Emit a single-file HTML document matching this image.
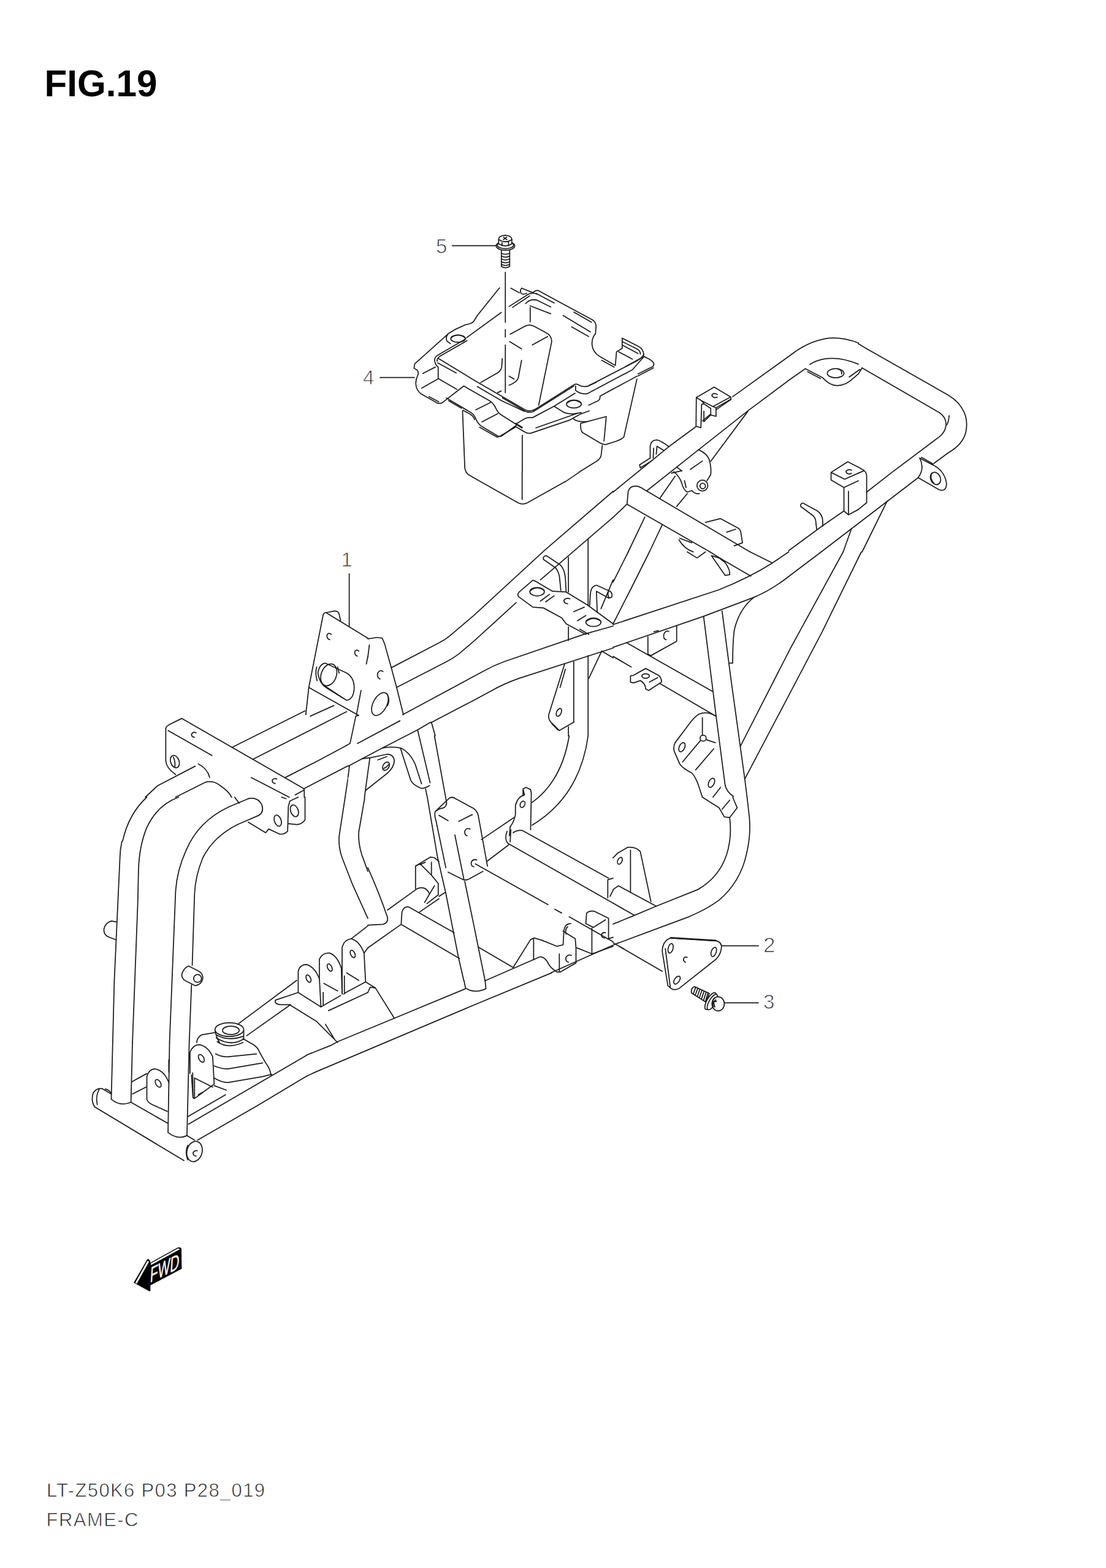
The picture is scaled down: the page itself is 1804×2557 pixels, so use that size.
<!DOCTYPE html>
<html><head><meta charset="utf-8"><title>FIG.19 FRAME-C</title>
<style>
html,body{margin:0;padding:0;background:#fff;}
body{width:1804px;height:2557px;overflow:hidden;position:relative;font-family:"Liberation Sans",sans-serif;}
svg{position:absolute;left:0;top:0;}
svg path,svg ellipse,svg circle,svg line,svg polyline{fill:none;stroke:#1c1c1c;stroke-width:1.75;vector-effect:non-scaling-stroke;stroke-linecap:round;stroke-linejoin:round;}
svg .w{fill:#fff;}
svg .k{fill:#2a2a2a;}
svg text{font-family:"Liberation Sans",sans-serif;fill:#333;stroke:none;}
svg text.n{font-size:33px;fill:#333;stroke:#fff;stroke-width:0.9px;}
svg text.b{font-size:31px;fill:#222;stroke:#fff;stroke-width:0.8px;}
svg text.t{font-size:62px;font-weight:bold;fill:#000;}
</style></head><body>
<svg width="1804" height="2557" viewBox="0 0 1804 2557">
<!-- 00_text.svg -->
<text class="t" x="72.5" y="157.2" textLength="184" lengthAdjust="spacingAndGlyphs">FIG.19</text>
<text class="b" x="76" y="2441" textLength="356" lengthAdjust="spacing">LT-Z50K6 P03 P28_019</text>
<text class="b" x="75.5" y="2489" textLength="150" lengthAdjust="spacing">FRAME-C</text>
<!-- 10_bolt5.svg -->
<text class="n" x="711" y="413">5</text>
<text class="n" x="592" y="627">4</text>
<path d="M620 615.5 L676 615.5"/>
<g transform="translate(660,370) scale(0.185185)">
<path d="M420 165 L805 165"/>
<path d="M887 400 L887 840 M887 905 L887 970 M887 1040 L887 1460"/>
<!-- bolt 5 -->
<path class="w" d="M852 200 L852 348 Q888 372 925 348 L925 200 Z"/>
<path d="M852 232 Q888 250 925 232 M852 257 Q888 275 925 257 M852 282 Q888 300 925 282 M852 307 Q888 325 925 307 M852 330 Q888 348 925 330"/>
<ellipse class="w" cx="888" cy="168" rx="82" ry="38"/>
<ellipse cx="888" cy="160" rx="72" ry="32"/>
<path class="w" d="M828 150 L828 108 Q830 78 885 74 Q940 78 944 108 L944 150 Q888 185 828 150 Z"/>
<path d="M828 112 Q885 150 944 112 M858 128 L858 165 M915 128 L915 165 M870 90 L900 112 M900 90 L870 112"/>
</g>
<!-- 11_boxleft.svg -->
<g transform="translate(670,430) scale(0.246914)">
<path d="M586 160 L440 342 L415 382 Q398 398 364 402 L290 436 L248 462 Q226 485 240 512 L262 528"/>
<ellipse cx="312" cy="495" rx="48" ry="24"/>
<path d="M268 488 Q312 455 358 488"/>
<path d="M244 466 L26 662 L22 690 L42 703 Q56 717 44 743 Q31 770 34 800 Q38 837 68 860 L177 921 Q192 927 211 916 L350 808 L520 905 Q548 922 562 955 Q578 988 600 1000 L735 1085"/>
<path d="M235 887 L400 985 Q418 995 430 1025 Q445 1060 470 1075 L575 1138 Q590 1145 605 1135 L700 1065"/>
<path d="M120 878 L185 912 M250 905 L335 955 M345 968 L395 995 Q412 1005 422 1030 M455 1080 L570 1145"/>
<path d="M364 496 L177 605 Q155 620 158 642 Q162 668 181 683 L181 758 L305 830"/>
<path d="M184 627 L413 766 L755 965 Q785 980 815 965"/>
<path d="M178 655 L300 722 M440 812 L600 905 M600 905 L750 975"/>
<path d="M80 725 L162 683 M72 822 L177 762"/>
<path d="M598 322 L370 488"/>
<path d="M604 627 L601 680 Q597 706 574 721 L462 785"/>
<path d="M732 638 L710 755 Q702 781 650 803"/>
<path d="M650 743 L683 762 M574 852 L597 841"/>
<path d="M657 466 L754 413 Q784 398 814 413 L897 458 Q931 477 931 514 L845 935"/>
<path d="M653 514 L732 563 M803 537 L904 481"/>
<path d="M430 965 L530 915 M470 1045 L575 990"/>
</g>
<g transform="translate(670,430) scale(0.246914)">
<path d="M372 508 L192 612 Q172 625 174 644"/>
</g>
<!-- 12_boxright.svg -->
<g transform="translate(800,470) scale(0.185185)">
<path d="M165 160 L330 55 Q365 35 410 52 M195 168 L345 68"/>
<path d="M180 0 L255 40 M275 0 Q255 20 270 45 Q290 60 320 45"/>
<path d="M275 0 L375 40 Q395 15 420 20 L900 280 Q930 300 930 340 L925 400 Q890 440 895 500 Q900 560 960 600 L1100 680 L1110 560 L1160 530 L1160 440 L1300 510 Q1350 535 1350 590"/>
<path d="M310 135 Q350 90 410 105 L530 165 M350 155 L530 225 M640 240 L880 385 M735 210 L890 300 M715 340 L865 425 M400 45 L560 130"/>
<path d="M350 170 L350 295"/>
<path d="M1160 470 L1290 535 Q1320 550 1320 580 M1130 560 L1250 625 M1160 500 L1300 575 M980 635 L1090 695"/>
<!-- rim -->
<path d="M380 1075 L420 1050 L735 850 Q755 838 775 850 Q810 875 860 862 L1290 640 Q1340 610 1350 580"/>
<path d="M105 965 L310 1085 Q340 1100 375 1088 L735 862"/>
<path d="M750 860 L750 900 Q790 935 850 930 L1250 718 L1350 605"/>
<path d="M870 855 L930 830 M1190 690 L1345 605"/>
<!-- flange front right -->
<path d="M225 1195 L310 1145 Q340 1135 370 1140 L560 1040 L745 925"/>
<path d="M560 1040 L640 1090 Q680 1110 740 1105 L800 1095"/>
<ellipse cx="735" cy="1020" rx="65" ry="35"/>
<path d="M675 1010 Q735 965 795 1010"/>
<path d="M60 1310 L80 1305 L225 1220 L300 1265 Q330 1285 360 1275 L700 1160 L790 1110 L870 1080"/>
<path d="M400 1230 L770 1100 M220 1190 L280 1225"/>
<path d="M865 1030 L940 995 Q965 985 965 960 L965 950 L1085 885 M975 945 L1290 775 M1300 755 L1430 690 Q1445 675 1435 655 Q1425 640 1400 625 L1350 600 M1300 772 L1435 702"/>
<!-- right wall -->
<path d="M1290 800 L1175 1310 Q1160 1330 1100 1350 L1020 1375 Q990 1380 960 1360 L810 1270 Q790 1250 795 1190 L850 1175 L1020 1130 L1000 1345"/>
<path d="M730 1150 Q760 1180 850 1175"/>
<path d="M985 1385 L975 1470 Q970 1500 940 1520 L780 1620"/>
<path d="M280 1295 L280 1620"/>
</g>
<!-- 13_boxbottom.svg -->
<g transform="translate(660,670) scale(0.185185)">
<path d="M510 0 L530 500 Q535 540 560 560 L610 590 L1000 810 Q1040 830 1080 810 L1410 625"/>
<path d="M1035 540 L1035 780"/>
</g>
<!-- 20_t1000_500.svg -->
<g transform="translate(1000,500) scale(0.246914)">
<!-- upper rail (left) top edge with rear loop corner -->
<path d="M1620 240 Q1500 195 1400 212 Q1280 235 1170 322 L790 595 M545 795 L385 912 L0 1225"/>
<path d="M1270 410 L1170 480 L895 685 L565 945 L225 1215"/>
<path d="M890 692 L645 1022"/>
<path d="M1620 380 Q1500 330 1400 345 Q1340 355 1300 382"/>
<path d="M1270 410 L1385 470 Q1430 520 1480 522 Q1540 520 1590 470 L1620 445 M1285 430 L1370 475"/>
<ellipse cx="1470" cy="440" rx="55" ry="30"/>
<path d="M1485 412 Q1515 420 1510 445"/>
<!-- bracket A -->
<path d="M548 790 L550 600 L668 532 L778 597 L778 612 L680 668 L680 725 L645 715 L645 672 L600 642 L585 645 L580 800 Z"/>
<path d="M550 600 L585 622 L600 640 M585 622 L660 660 L770 600 M660 660 L680 668 M600 690 L600 760 L645 715"/>
<path d="M688 580 Q665 565 652 585 Q660 608 688 598"/>
<!-- hook bracket -->
<path d="M245 1000 L245 920 Q250 880 290 880 Q310 882 370 925 M285 975 L290 922 L335 950 M265 1000 L268 935"/>
<path d="M175 1045 L245 1000 M180 1065 L260 1015 M175 1045 L180 1065"/>
<!-- collar with bolt -->
<path d="M565 945 Q620 970 635 1010 Q650 1060 645 1110 L620 1150"/>
<path d="M400 1090 Q440 1120 455 1170 Q465 1210 490 1225 L520 1215 Q540 1240 570 1235"/>
<circle cx="590" cy="1182" r="36"/>
<circle cx="592" cy="1185" r="18"/>
<path d="M510 1075 L590 1020 M385 1100 L450 1085 M472 1150 L482 1195 M420 1060 L455 1085"/>
<!-- cross tube -->
<path d="M92 1305 L100 1220 Q110 1185 150 1185 Q175 1187 200 1205 L905 1620"/>
<path d="M92 1305 L640 1620 M92 1305 L0 1392"/>
<path d="M210 1390 L100 1620 M325 1440 L240 1620 M410 1120 L310 1265 M490 1235 L420 1320"/>
<!-- plate -->
<path d="M610 1425 L710 1400 L830 1465 Q845 1480 845 1500 L855 1560 L800 1580 M750 1490 L810 1470"/>
<path d="M440 1530 L520 1560 M435 1540 Q470 1600 530 1620"/>
<!-- right bracket -->
<path d="M1620 1060 L1550 1025 L1440 1095 L1440 1145 L1525 1195 L1620 1150 M1440 1095 L1530 1140 L1620 1100 M1525 1195 L1525 1350 L1555 1375 L1620 1340 M1555 1220 L1555 1375"/>
<path d="M1575 1080 Q1550 1070 1538 1090 Q1548 1112 1575 1102"/>
<!-- hook rod -->
<path d="M1240 1320 Q1235 1300 1255 1298 L1350 1350 Q1385 1375 1385 1420 L1385 1450 M1240 1320 L1320 1380 Q1340 1400 1340 1430 L1345 1470"/>
<!-- right rail -->
<path d="M1525 1350 L1380 1450 L1160 1612 M1575 1466 L1520 1620"/>
</g>
<!-- 21_t1300_500.svg -->
<g transform="translate(1300,500) scale(0.246914)">
<path d="M405 245 L450 272 L1000 585 Q1075 630 1105 700 Q1130 760 1115 830 Q1095 910 1000 965 L905 1035"/>
<path d="M430 405 L940 700 Q985 730 985 780 Q980 830 940 860 L620 1100 L460 1225"/>
<path d="M1005 720 Q1002 760 990 780"/>
<path d="M405 445 L430 405 M345 465 L415 415"/>
<path d="M810 1000 L895 1045 Q975 1080 988 1170 Q985 1225 940 1210 L800 1130 Q830 1090 825 1050 Q822 1020 810 1000 M822 995 L900 1040"/>
<ellipse cx="915" cy="1135" rx="32" ry="42" transform="rotate(-25 915 1135)"/>
<path d="M890 1100 Q875 1135 905 1168"/>
<path d="M405 1060 L440 1080 Q460 1095 460 1120 L460 1295 L405 1340 M405 1100 L440 1085"/>
<path d="M800 1130 L160 1620"/>
<path d="M595 1285 L430 1620"/>
</g>
<!-- 22_t1000_900.svg -->
<g transform="translate(1000,900) scale(0.246914)">
<!-- right rail curved -->
<path d="M1160 0 L1050 75 Q900 170 700 250 L0 480"/>
<path d="M1375 0 L1170 155 Q1050 250 930 300 L600 425 L0 630"/>
<!-- cross tube 1 -->
<path d="M905 0 L1050 72 M640 0 L720 50 L910 160"/>
<!-- struts -->
<path d="M1520 0 L1230 530 L1170 640 L840 1285"/>
<path d="M1640 0 L1380 530 L1170 930 L870 1500"/>
<!-- left diagonals -->
<path d="M100 0 L0 200 M240 0 L120 240 L0 475"/>
<!-- vertical tube -->
<path d="M598 425 L660 920 L680 1080 L740 1540 Q750 1585 795 1615"/>
<path d="M720 390 L780 850 L870 1500 L885 1620"/>
<path d="M930 300 Q830 380 800 520 Q790 600 790 735 L765 735"/>
<!-- cross tube 2 -->
<path d="M90 600 L655 920 M0 690 L120 760 M310 870 L680 1085"/>
<!-- small plate -->
<path d="M230 560 L230 675 L250 685 L420 590 L420 485"/>
<path d="M368 525 Q345 515 335 545 Q330 575 350 580 M270 527 L300 520"/>
<!-- clip -->
<path d="M115 860 L115 820 L135 815 L215 770 L300 815 Q320 830 320 860 L235 915 L215 905 Q215 870 180 850 L135 865 Z"/>
<ellipse cx="215" cy="820" rx="25" ry="15"/>
<path d="M240 860 L295 830"/>
<!-- big bracket -->
<path d="M680 1085 Q620 1050 570 1070 Q540 1085 500 1140 L410 1260 Q395 1290 405 1320 L440 1400 Q460 1430 520 1460 Q540 1480 560 1530 L590 1620"/>
<path d="M590 1095 L590 1210 M578 1245 L459 1387 M615 1240 L675 1260 M545 1440 L665 1300 M660 1620 L710 1555"/>
<circle cx="595" cy="1230" r="20"/>
<ellipse cx="455" cy="1290" rx="18" ry="32" transform="rotate(25 455 1290)"/>
<ellipse cx="650" cy="1525" rx="18" ry="32" transform="rotate(25 650 1525)"/>
<!-- top bits -->
<path d="M490 0 L555 40 L610 0 M650 25 L740 155 L770 150 Q775 120 740 70 L700 40 Z"/>
</g>
<!-- 23_t600_800.svg -->
<g transform="translate(600,800) scale(0.246914)">
<!-- upper-left rail -->
<path d="M1620 5 L1170 392 L700 825 L570 935 Q520 980 480 1000 L155 1170"/>
<path d="M1620 177 L1140 590 M980 740 L700 995 L600 1080 Q560 1110 520 1130 L190 1300"/>
<!-- right rail -->
<path d="M1620 895 L1440 945 L900 1130 Q830 1155 760 1195 L230 1480"/>
<path d="M1620 1040 L1000 1240 Q900 1275 820 1320 L700 1385 L250 1620"/>
<!-- head plate -->
<path d="M0 980 L60 970 L95 975 L110 1010 L155 1170 L190 1300 L235 1480 M10 1020 L0 1100"/>
<path d="M100 1195 Q80 1180 65 1205 Q58 1235 80 1245"/>
<ellipse cx="80" cy="1410" rx="45" ry="82" transform="rotate(28 80 1410)"/>
<path d="M125 1340 Q150 1380 130 1420"/>
<path d="M0 1610 L210 1520 M420 1530 L445 1620 M325 1580 L340 1620"/>
<!-- hook rod -->
<path d="M1160 455 Q1155 430 1180 430 L1270 490 Q1300 520 1305 580 L1310 670 M1160 455 L1240 510 Q1265 540 1268 590 L1275 660"/>
<!-- vertical lines -->
<path d="M1325 440 L1325 670 M1325 900 L1325 990 M1455 320 L1455 760 M1455 1090 L1455 1620 M1360 1130 L1360 1530 M1325 1560 L1325 1620"/>
<!-- mount plate -->
<path d="M1110 600 L1090 592 L1000 670 Q985 685 995 700 L1090 770 L1160 775 L1280 840 L1310 880 L1440 950"/>
<path d="M1110 600 L1220 665 L1310 670 L1450 755 L1620 880"/>
<ellipse cx="1118" cy="668" rx="48" ry="28"/>
<path d="M1075 660 Q1118 625 1165 660"/>
<ellipse cx="1490" cy="870" rx="50" ry="28"/>
<path d="M1445 862 Q1490 828 1538 862"/>
<path d="M1335 715 Q1310 705 1295 725 Q1295 745 1320 748"/>
<path d="M1140 730 L1200 685 M1175 735 L1230 695 M1360 800 L1430 770 M1385 860 L1440 825 M1400 915 L1460 950"/>
<!-- right hook -->
<path d="M1465 760 L1470 680 Q1475 630 1510 625 L1600 665 Q1620 680 1610 705 L1590 710 L1510 665 L1515 800 M1590 665 Q1580 690 1595 710 M1620 590 L1540 780"/>
<!-- lower arm -->
<path d="M1300 1145 L1195 1480 Q1190 1510 1210 1530 L1265 1585 L1360 1530 M1305 1180 L1270 1300 M1215 1540 L1255 1580"/>
<ellipse cx="1262" cy="1465" rx="15" ry="28" transform="rotate(25 1262 1465)"/>
<path d="M1545 1060 L1620 1105 M1545 1060 L1460 1240"/>
</g>
<!-- 24_t600_1200.svg -->
<g transform="translate(600,1200) scale(0.246914)">
<!-- top-left gusset/bracket -->
<path d="M140 0 L0 50 M0 120 L215 75 Q260 80 290 140 Q320 200 345 310 M225 90 Q250 150 280 260 Q290 310 340 345 Q370 350 410 325 M350 312 L410 305"/>
<path d="M0 165 L100 125 Q160 115 175 160 Q180 200 140 235 L0 330 M60 152 L110 135"/>
<ellipse cx="118" cy="198" rx="22" ry="30" transform="rotate(30 118 198)"/>
<path d="M0 870 Q80 1050 130 1200 Q135 1235 100 1245 L0 1250"/>
<!-- down tube -->
<path d="M340 0 L380 330 L460 800 L515 1040 L600 1470 L635 1620"/>
<path d="M440 0 L520 440 M640 960 L700 1250 L775 1620"/>
<!-- box bracket -->
<path d="M520 440 Q520 465 500 475 Q465 482 445 500 Q438 525 450 560 L515 870 M445 500 L540 410 Q560 400 580 415 L700 480 Q725 500 730 530 L790 860"/>
<path d="M530 900 L630 950 Q650 955 670 945 L760 895 M575 655 L635 950 M470 525 L530 560 M600 565 L690 520"/>
<path d="M675 615 Q650 605 640 630 Q638 655 655 660"/>
<path d="M720 820 Q695 810 683 835 Q680 860 700 865"/>
<path d="M710 845 L1190 1115 M1235 1145 L1280 1170 M1330 1195 L1620 1360"/>
<!-- cross tube right -->
<path d="M1020 625 L1590 940 M925 710 L1620 1105 M925 710 Q900 680 920 630 M945 620 L940 700 M960 640 Q985 620 1020 625"/>
<path d="M935 660 L940 600 Q965 570 975 520 L975 460 Q990 400 1035 390 L1025 350 L1045 340 L1075 355 L1080 380 L1075 620 M1025 350 L1025 395"/>
<ellipse cx="1022" cy="452" rx="15" ry="22" transform="rotate(25 1022 452)"/>
<path d="M750 685 L965 540 M785 830 L930 720"/>
<path d="M1085 440 Q1280 300 1330 0 M1085 590 Q1400 400 1455 0"/>
<!-- left U bracket -->
<path d="M315 1010 L315 860 L415 800 L440 805 L470 830 M315 860 L345 845 L420 920 L465 975 L465 1050 L390 1108 M420 835 L420 920 M440 990 L375 1100 M345 850 L380 835"/>
<!-- lower-left tubes -->
<path d="M130 1150 L325 1010 Q345 1000 370 1005 Q395 1015 405 1040 M340 1165 L470 1075 M470 1060 L510 1035"/>
<path d="M220 1245 L225 1165 Q235 1125 270 1130 L570 1300 M220 1245 L605 1470 M220 1245 L0 1400"/>
<!-- bottom -->
<path d="M730 1395 L960 1530 M780 1615 L1135 1460 Q1160 1455 1185 1490 Q1200 1530 1250 1560 L1270 1560 L1375 1500 L1375 1400"/>
<path d="M960 1530 L1075 1345 L1100 1335 L1150 1350 Q1200 1370 1250 1390 L1290 1380 L1295 1290 Q1300 1240 1340 1240 M1095 1340 L1095 1480 M1265 1440 L1265 1555 M1290 1290 L1370 1340 L1375 1400 M1320 1260 Q1300 1280 1310 1310"/>
<path d="M1345 1450 Q1320 1440 1308 1465 Q1305 1490 1325 1495"/>
<path d="M1440 1240 L1445 1170 Q1470 1150 1500 1160 L1590 1205 L1590 1340 M1440 1240 L1490 1265 L1570 1215 M1480 1270 L1480 1440 M1590 1340 L1620 1330 M1380 1400 L1480 1440 L1620 1390"/>
<path d="M1570 1300 Q1550 1295 1542 1315 Q1545 1335 1565 1335"/>
<path d="M1585 1070 L1585 950 L1620 940 M1600 1060 L1620 1020"/>
</g>
<!-- 25_t1000_1300.svg -->
<text class="n" x="1245" y="1553" style="font-size:35px">2</text>
<text class="n" x="1245" y="1645">3</text>
<g transform="translate(1000,1300) scale(0.246914)">
<path d="M885 0 L900 130 Q912 250 880 380 Q840 560 700 680 Q620 740 500 790 L30 965"/>
<path d="M770 135 Q787 260 750 380 Q700 530 560 610 L285 720 L130 785 L0 838"/>
<path d="M590 0 L700 70 L735 130 L770 135 L820 70 L790 0 M720 80 L770 20"/>
<path d="M0 400 L30 370 L95 332 Q150 325 180 360 L250 690 M115 350 L115 630 M0 610 L35 585 L285 720 M0 700 L140 780"/>
<ellipse cx="45" cy="420" rx="14" ry="24" transform="rotate(25 45 420)"/>
<path d="M0 962 L70 1000 M40 985 L325 1150"/>
<!-- plate 2 -->
<path d="M325 1020 Q325 950 380 930 L680 948 Q722 958 715 1000 Q710 1040 680 1070 L440 1260 Q410 1280 385 1265 L362 1245 Z M345 1000 L378 1255"/>
<path d="M382 929 L680 947" style="stroke-width:2.6"/>
<ellipse cx="380" cy="998" rx="16" ry="32" transform="rotate(15 380 998)"/>
<ellipse cx="665" cy="1022" rx="16" ry="32" transform="rotate(20 665 1022)"/>
<ellipse cx="422" cy="1208" rx="16" ry="30" transform="rotate(35 422 1208)"/>
<path d="M490 1058 Q470 1050 465 1070 Q465 1085 478 1090"/>
<path d="M720 982 L960 982 M735 1358 L960 1358"/>
<!-- bolt 3 -->
</g>
<g transform="translate(1060,1500) scale(0.148148)">
<path class="w" d="M490 735 L655 810 L615 905 L458 805 Q448 755 490 735 Z"/>
<path d="M505 742 L478 815 M528 752 L500 828 M551 763 L523 842 M574 773 L546 856 M597 784 L569 870 M620 794 L592 884 M640 803 L612 897"/>
<ellipse class="w" cx="668" cy="895" rx="40" ry="105" transform="rotate(30 668 895)"/>
<ellipse class="w" cx="688" cy="905" rx="36" ry="96" transform="rotate(30 688 905)"/>
<ellipse class="w" cx="752" cy="925" rx="68" ry="78"/>
<path d="M705 865 Q680 900 700 955 M725 880 L700 905 L715 960 M700 905 L735 895"/>
</g>
<!-- 26_t200_900.svg -->
<text class="n" x="556.5" y="923.5">1</text>
<g transform="translate(200,900) scale(0.246914)">
<path d="M1497 145 L1497 490"/>
<!-- head plate -->
<path d="M1440 455 L1430 410 Q1425 390 1400 390 L1350 400 Q1330 400 1325 415 L1230 895 L1210 1075 M1350 405 L1620 570 M1230 895 L1560 1080 L1540 1085 M1620 690 L1610 740 M1575 915 L1545 1075 M1540 1085 L1505 1265"/>
<path d="M1290 800 Q1300 740 1340 735 L1480 800 Q1530 830 1530 900 Q1525 975 1480 980 L1350 900 Q1300 870 1290 800 Z"/>
<ellipse cx="1362" cy="812" rx="50" ry="75" transform="rotate(20 1362 812)"/>
<path d="M1335 885 L1455 965 M1282 760 Q1270 800 1285 850 M1420 760 L1430 800"/>
<path d="M1378 545 Q1362 530 1350 548 Q1348 575 1368 580 M1560 655 Q1545 640 1533 658 Q1532 682 1550 688"/>
<!-- rails left of plate -->
<path d="M1205 1050 L725 1290 M1395 1015 L1240 1085 M1480 1055 L860 1370"/>
<path d="M1505 1265 L1280 1385 L1075 1490 M1620 1230 L1550 1270 M1620 1345 L1195 1565"/>
<!-- front cross member -->
<path d="M285 1165 Q290 1150 310 1140 L390 1100 L1200 1565 L1200 1620 M300 1180 L590 1345 M850 1490 L1100 1620 M1140 1605 L1200 1572"/>
<path d="M285 1165 L285 1380 Q290 1430 350 1470"/>
<ellipse cx="345" cy="1385" rx="28" ry="42" transform="rotate(-20 345 1385)"/>
<path d="M335 1355 Q350 1385 345 1420"/>
<path d="M485 1195 Q465 1185 455 1205 Q455 1222 475 1225 M1018 1500 Q998 1490 988 1510 Q988 1527 1008 1530"/>
<!-- lower left tubes -->
<path d="M150 1620 L230 1545 L480 1415 M500 1400 Q560 1430 575 1490 M350 1620 L550 1520 Q600 1510 640 1540 Q700 1580 720 1620"/>
<path d="M1500 1420 L1470 1620 M1620 1370 L1590 1390 M1620 1540 L1615 1620"/>
</g>
<!-- 27_t200_1300.svg -->
<g transform="translate(200,1300) scale(0.246914)">
<!-- hoop tube 1 -->
<path d="M160 0 Q40 110 0 290"/>
<path d="M370 0 Q230 50 160 200 Q110 320 105 480 L100 700 L65 1620"/>
<!-- hoop tube 2 -->
<path d="M830 10 L700 65 Q500 160 420 350 Q360 480 350 620 L310 1620"/>
<path d="M900 120 L760 180 Q600 260 530 400 Q480 520 475 640 L460 1110 M455 1240 L440 1620"/>
<path d="M830 10 Q890 -5 920 50 Q935 100 900 120 M740 0 L770 40"/>
<!-- bracket top -->
<path d="M830 165 L945 235 L965 210 L1040 245 Q1070 245 1090 225 L1095 60 L1105 25 L1160 0 M1095 175 L1140 180 Q1180 185 1205 150 L1205 0 M1050 0 L1080 10"/>
<ellipse cx="1025" cy="155" rx="22" ry="38" transform="rotate(-20 1025 155)"/>
<ellipse cx="1135" cy="90" rx="25" ry="40" transform="rotate(-20 1135 90)"/>
<!-- boss -->
<path d="M435 1115 L505 1150 Q530 1165 530 1195 Q525 1235 480 1245 L420 1215 M435 1115 Q400 1130 390 1175 Q395 1205 420 1215"/>
<circle cx="495" cy="1197" r="26"/>
<!-- down tube right -->
<path d="M1470 0 L1430 260 Q1425 330 1450 400 L1520 580 L1620 800 M1600 0 L1560 230 Q1555 300 1580 380 L1620 490"/>
<!-- tabs -->
<path d="M1160 1290 L1160 1150 Q1170 1105 1215 1105 Q1270 1120 1300 1200 L1310 1385 L1160 1290"/>
<path d="M1300 1200 L1300 1070 Q1320 1025 1370 1030 Q1420 1050 1445 1130 L1450 1300"/>
<path d="M1450 1290 L1450 990 Q1465 940 1510 935 Q1565 950 1595 1030 L1605 1220 L1475 1290 L1460 1300 M1620 995 L1595 1030"/>
<ellipse cx="1228" cy="1198" rx="14" ry="26" transform="rotate(-25 1228 1198)"/>
<ellipse cx="1368" cy="1125" rx="14" ry="26" transform="rotate(-25 1368 1125)"/>
<ellipse cx="1520" cy="1035" rx="14" ry="26" transform="rotate(-25 1520 1035)"/>
<path d="M1310 1385 L1440 1310 M1325 1290 L1325 1370 M1465 1180 L1465 1290 M1480 1160 L1560 1210 M1330 1230 L1420 1280 M1510 935 L1620 850"/>
<!-- lower arms -->
<path d="M1150 1210 L760 1500 M1160 1290 L1010 1340 Q1000 1365 1040 1370 L1110 1370 L820 1575 M1040 1330 L1130 1300 M1110 1375 L1280 1480 L1420 1620 M1360 1410 L1620 1290 M1340 1500 L1400 1600"/>
<!-- bushing -->
<ellipse cx="705" cy="1535" rx="95" ry="45"/>
<ellipse cx="715" cy="1540" rx="55" ry="28"/>
<path d="M610 1540 Q620 1590 640 1620 M800 1540 L800 1600 M620 1570 Q700 1615 800 1578 M610 1555 L520 1570 Q490 1590 490 1620"/>
</g>
<!-- 28_t100_1600.svg -->
<g transform="translate(100,1600) scale(0.246914)">
<path d="M350 0 L330 780 Q390 830 460 800 L470 405"/>
<path d="M715 405 L705 1000 Q770 1050 830 1020 L845 405"/>
<!-- bottom cross tube -->
<path d="M270 710 L330 745 M460 800 L705 940 M830 1020 L880 1050 M220 830 L810 1185"/>
<path d="M270 710 Q230 705 210 740 Q195 790 220 830 M250 715 Q225 760 238 815 M290 712 Q320 718 330 745"/>
<ellipse cx="880" cy="1125" rx="50" ry="68" transform="rotate(15 880 1125)"/>
<path d="M835 1085 Q815 1130 835 1180 M898 1120 Q880 1115 870 1135 Q872 1155 890 1155"/>
<!-- tabs -->
<path d="M565 780 L565 630 Q580 580 620 580 Q680 590 710 670 M565 780 Q570 800 600 815 L700 860"/>
<ellipse cx="640" cy="675" rx="16" ry="28" transform="rotate(-30 640 675)"/>
<path d="M850 610 L850 470 Q870 420 910 420 Q970 430 1000 500 L1010 680 L880 775 L870 770 L860 620 M880 640 L880 770 M880 640 L1000 700 M905 750 L930 735"/>
<ellipse cx="925" cy="510" rx="16" ry="28" transform="rotate(-30 925 510)"/>
<path d="M465 665 L565 610 M470 745 L560 700 M710 520 L710 600"/>
<!-- arm lines -->
<path d="M835 895 L1085 750 M840 945 L1620 490 M900 1050 L1290 825 L1620 628"/>
<!-- housing -->
<path d="M1030 400 Q1100 450 1200 405 M1200 380 L1270 420 Q1300 440 1310 470 L1350 540 Q1380 580 1385 620 M1020 480 Q1050 500 1100 500 L1290 480 M1010 560 Q1060 580 1100 580 L1330 540 M1010 640 Q1060 670 1100 670 L1330 630 L1390 615 M1010 690 L1090 720"/>
</g>
<!-- 29_t500_1500.svg -->
<g transform="translate(500,1500) scale(0.246914)">
<path d="M0 893 L160 830 L205 805 L580 650 L1050 455"/>
<path d="M0 1033 L60 1005 L1100 565 L1620 350"/>
<path d="M405 480 L420 445 L455 450 L580 650 M390 410 L455 450"/>
<path d="M1041 405 L1050 450 Q1110 490 1185 455 L1180 405"/>
</g>
<!-- 30_misc.svg -->
<path d="M198.8 1372 Q196 1385 195.7 1397 L186.4 1600"/>
<path d="M189.5 1503.4 L181.8 1501.9 Q171 1505 169.4 1515.7 Q169.4 1525 177.2 1528 L189.5 1532.7"/>
<path d="M899.4 1586 L1007.4 1538"/>
<g transform="translate(230,1620) scale(0.185185)">
<path d="M662 392 Q790 472 902 402 M455 700 L458 905"/>
</g>
<path d="M921.3 786.1 L944.4 770.4"/>
<g transform="translate(1100,600) scale(0.123457)">
<path d="M750 415 L555 550 M475 612 L370 700"/>
</g>
<!-- 40_fwd.svg -->
<g transform="translate(200,2010) scale(0.074074)">
<path style="fill:#000;stroke:#000;stroke-width:0.6" d="M250 1100 L545 590 L575 588 L605 630 L605 670 L1220 330 L1265 330 L1292 352 L1297 795 L608 1160 L608 1285 L585 1285 Z"/>
<path style="fill:#fff;stroke:none" d="M280 1105 L548 622 L582 640 L310 1128 Z"/>
<path style="fill:#fff;stroke:none" d="M622 678 L1222 348 L1262 368 L622 716 Z"/>
</g>
<text transform="matrix(0.59,-0.295,-0.06,1,244.3,2092)" style="font-size:35.5px;fill:#fff;stroke:#fff;stroke-width:0.4">FWD</text>
<!-- 50_patch1.svg -->
<g transform="translate(520,1080) scale(0.185185)">
<rect x="258" y="480" width="727" height="715" style="fill:#fff;stroke:none"/>
<path d="M715 515 L340 715"/>
<path d="M985 528 L870 595 L560 755 L380 850 L258 915"/>
<path d="M325 480 L275 715 L258 724"/>
<path d="M560 755 Q640 740 720 755 Q800 790 850 900 L905 1070"/>
<path d="M720 760 L810 1040 Q830 1080 900 1110 Q940 1110 975 1085"/>
<path d="M870 595 L980 1060 M940 1115 L957 1195"/>
<path d="M455 840 L600 810 Q660 810 665 870 Q660 930 600 980 L410 1130 M520 860 L600 830 M380 850 L450 840"/>
<ellipse cx="592" cy="915" rx="26" ry="40" transform="rotate(32 592 915)"/>
<path d="M572 935 Q600 925 615 900"/>
<path d="M270 910 L258 1010 M450 840 L410 1130 L402 1195"/>
</g>
</svg>
</body></html>
